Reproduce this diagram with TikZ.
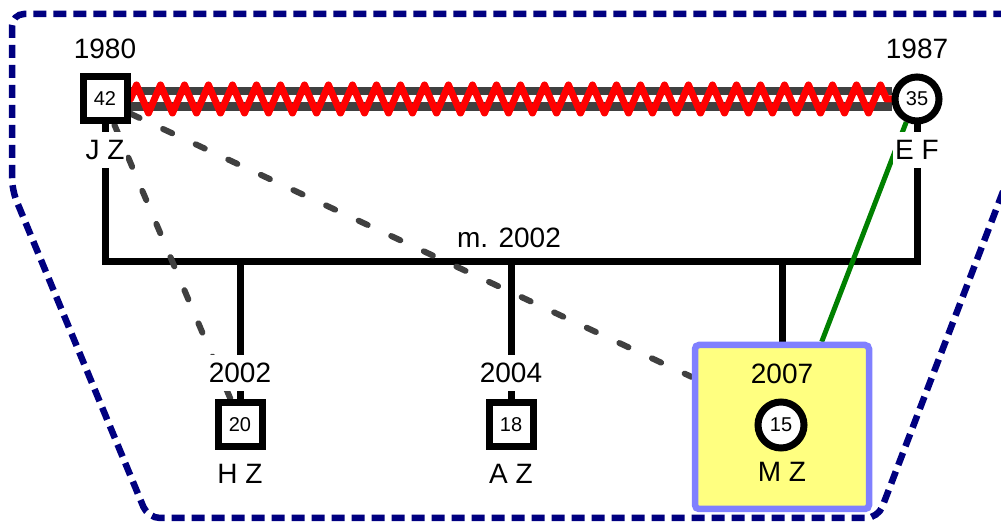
\documentclass[tikz,border=0pt]{standalone}
\usepackage{fontspec}
\setmainfont{Liberation Sans}
\usetikzlibrary{decorations.pathmorphing,calc}
\pgfdeclarelayer{lines}
\pgfsetlayers{lines,main}
\definecolor{navyb}{RGB}{0,0,128}
\definecolor{darkg}{RGB}{64,64,64}
\definecolor{boxfill}{RGB}{255,255,128}
\definecolor{boxline}{RGB}{128,128,255}
\definecolor{kingreen}{RGB}{0,128,0}
\begin{document}
\begin{tikzpicture}[x=0.5pt,y=-0.5pt,
  male/.style={rectangle,draw=black,line width=3.5pt,fill=white,minimum size=22pt,inner sep=0pt,font=\fontsize{10}{12}\selectfont},
  female/.style={circle,draw=black,line width=3.5pt,fill=white,minimum size=22pt,inner sep=0pt,font=\fontsize{10}{12}\selectfont},
  lbl/.style={fill=white,inner xsep=1pt,inner ysep=0pt,minimum height=18pt,font=\fontsize{14}{16}\selectfont},
  txt/.style={inner sep=0pt,font=\fontsize{14}{16}\selectfont},
  famline/.style={line width=3.5pt,black},
  tie/.style={line width=3pt,darkg,dash pattern=on 5pt off 13pt,line cap=round},
  focusbox/.style={rectangle,draw=boxline,fill=boxfill,line width=3.25pt,rounded corners=2pt,minimum width=87pt,minimum height=82pt,inner sep=0pt},
]
\useasboundingbox (0,0) rectangle (1001,522);

% parents
\node[male] (JZ) at (105,99) {42};
\node[female] (EF) at (917,99) {35};
\node[txt] (JZyear) at (105,49) {1980};
\node[txt] (EFyear) at (917,49) {1987};
\node[lbl] (JZname) at (105,150) {J Z};
\node[lbl] (EFname) at (917,150) {E F};
\node[txt] (wed) at (509,238) {m. 2002};
\coordinate (sib) at (509,262);

% children
\node[male] (HZ) at (240,425) {20};
\node[lbl] (HZyear) at (240,373) {2002};
\node[txt] (HZname) at (240,474) {H Z};

\node[male] (AZ) at (511,425) {18};
\node[lbl] (AZyear) at (511,373) {2004};
\node[txt] (AZname) at (511,474) {A Z};

\node[focusbox] (MZbox) at (782,427) {};
\node[female,minimum size=23pt] (MZ) at (781,425) {15};
\node[txt] (MZyear) at (782,374) {2007};
\node[txt] (MZname) at (782,472) {M Z};

\begin{pgfonlayer}{lines}
  % household outline
  \begin{scope}
    \clip (0,0) rectangle (1001,522);
    \draw[navyb,line width=3.25pt,dash pattern=on 6.5pt off 3.5pt,rounded corners=6pt]
      (12,190) -- (12,14) -- (1071,14) -- (878,518) -- (148,518) -- cycle;
  \end{scope}
  % hostile couple relationship
  \draw[darkg,line width=12pt] (JZ.east) -- (EF.west);
  \draw[white,line width=3.5pt] (JZ.east) -- (EF.west);
  \draw[red,line width=3.5pt,line join=round,line cap=round,decorate,
        decoration={zigzag,segment length=12pt,amplitude=7pt}] (JZ.east) -- (EF.west);
  % descent lines
  \draw[famline] (JZ.south) -- (JZ.south |- sib) -- (EF.south |- sib) -- (EF.south);
  \draw[famline] (HZ.north |- sib) -- (HZ.north);
  \draw[famline] (AZ.north |- sib) -- (AZ.north);
  \draw[famline] (MZbox.north |- sib) -- (MZbox.north);
  % distant ties
  \draw[tie] (JZ.-70) -- (HZ.110);
  \draw[tie] (JZ.-30) -- (MZbox.151.6);
  % close tie
  \draw[kingreen,line width=2.5pt] (EF.-115) -- ($(MZbox.north)!0.44!(MZbox.north east)$);
\end{pgfonlayer}
\end{tikzpicture}
\end{document}
